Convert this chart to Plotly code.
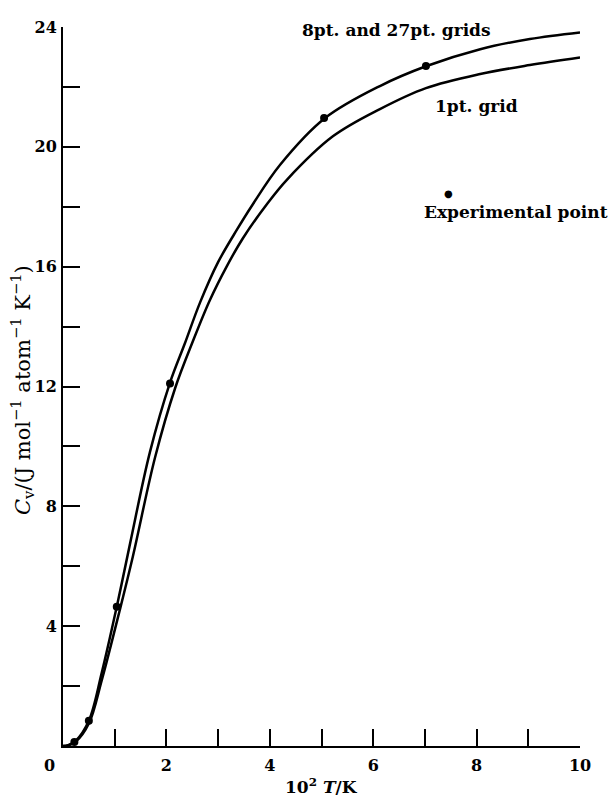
import plotly.graph_objects as go

# 8pt. and 27pt. grids curve
T_fine = [0, 0.1, 0.25, 0.5, 0.75, 1.04, 1.3, 1.68, 2.07, 2.36, 2.65, 3.0, 3.37, 3.66, 4.2, 5.07, 6.13, 7.02, 8.07, 9.03, 10.0]
Cv_fine = [0, 0.03, 0.18, 0.84, 2.45, 4.65, 6.78, 9.8, 12.13, 13.45, 14.8, 16.15, 17.25, 18.05, 19.4, 20.96, 22.03, 22.69, 23.26, 23.6, 23.82]

# 1pt. grid curve
T_1pt = [0, 0.1, 0.25, 0.5, 0.75, 1.1, 1.35, 1.78, 2.17, 2.51, 2.84, 3.17, 3.48, 3.95, 4.33, 5.22, 6.13, 7.02, 8.07, 9.03, 10.0]
Cv_1pt = [0, 0.02, 0.15, 0.75, 2.2, 4.55, 6.32, 9.63, 11.95, 13.5, 14.88, 16.02, 16.95, 18.1, 18.9, 20.35, 21.26, 21.96, 22.43, 22.73, 22.98]

# Experimental points
T_exp = [0.22, 0.5, 1.04, 2.07, 5.05, 7.02, 10.05]
Cv_exp = [0.13, 0.84, 4.65, 12.1, 20.96, 22.7, 23.83]

x_ticks = list(range(0, 11))
x_ticktext = ["", "", "2", "", "4", "", "6", "", "8", "", "10"]
y_ticks = list(range(0, 25, 2))
y_ticktext = ["" if v % 4 or v == 0 else str(v) for v in y_ticks]

FONT = "DejaVu Serif"

fig = go.Figure()
fig.add_trace(go.Scatter(x=T_fine, y=Cv_fine, mode="lines",
                         line=dict(color="black", width=2.5, shape="spline"),
                         showlegend=False))
fig.add_trace(go.Scatter(x=T_1pt, y=Cv_1pt, mode="lines",
                         line=dict(color="black", width=2.5, shape="spline"),
                         showlegend=False))
fig.add_trace(go.Scatter(x=T_exp, y=Cv_exp, mode="markers", marker=dict(color="black", size=8),
                         cliponaxis=False, showlegend=False))

tick_font = dict(family=FONT, size=16, color="black", weight="bold")
fig.update_xaxes(range=[0, 10], tickvals=x_ticks, ticktext=x_ticktext, ticks="inside", ticklen=17, tickwidth=2,
                 tickcolor="black", showline=True, linecolor="black", linewidth=2, showgrid=False, zeroline=False,
                 ticklabelstandoff=4, tickfont=tick_font)
fig.update_yaxes(range=[0, 24], tickvals=y_ticks, ticktext=y_ticktext, ticks="inside", ticklen=17, tickwidth=2,
                 tickcolor="black", showline=True, linecolor="black", linewidth=2, showgrid=False, zeroline=False,
                 ticklabelstandoff=1, tickfont=tick_font)

ann_font = dict(family=FONT, size=17, color="black", weight="bold")


def px_x(p):
    return (p - 63) / 517


def px_y(p):
    return (746 - p) / 719


fig.add_annotation(x=px_x(49), y=px_y(765), xref="paper", yref="paper", xanchor="center", yanchor="middle",
                   text="0", showarrow=False, font=tick_font)
fig.add_annotation(x=px_x(321), y=px_y(786), xref="paper", yref="paper", xanchor="center", yanchor="middle",
                   text="10<sup>2</sup> <i>T</i>/K", showarrow=False,
                   font=dict(family=FONT, size=17, color="black", weight="bold"))
fig.add_annotation(x=px_x(22), y=px_y(390), xref="paper", yref="paper", xanchor="center", yanchor="middle",
                   text="<i>C</i><sub>v</sub>/(J mol<sup>−1</sup> atom<sup>−1</sup> K<sup>−1</sup>)",
                   textangle=-90, showarrow=False, font=dict(family=FONT, size=21, color="black"))
fig.add_annotation(x=px_x(300), y=px_y(30), xref="paper", yref="paper", xanchor="left", yanchor="middle",
                   text="8pt. and 27pt. grids", showarrow=False, font=ann_font)
fig.add_annotation(x=px_x(433), y=px_y(106), xref="paper", yref="paper", xanchor="left", yanchor="middle",
                   text="1pt. grid", showarrow=False, font=ann_font)
fig.add_annotation(x=px_x(422), y=px_y(212), xref="paper", yref="paper", xanchor="left", yanchor="middle",
                   text="Experimental point", showarrow=False, font=ann_font)
fig.add_annotation(x=px_x(448), y=px_y(194), xref="paper", yref="paper", xanchor="center", yanchor="middle",
                   text="●", showarrow=False, font=dict(family="DejaVu Sans", size=10, color="black"))

fig.update_layout(width=616, height=799, margin=dict(l=63, r=36, t=27, b=53),
                  plot_bgcolor="white", paper_bgcolor="white")

fig.write_html("out.html")
